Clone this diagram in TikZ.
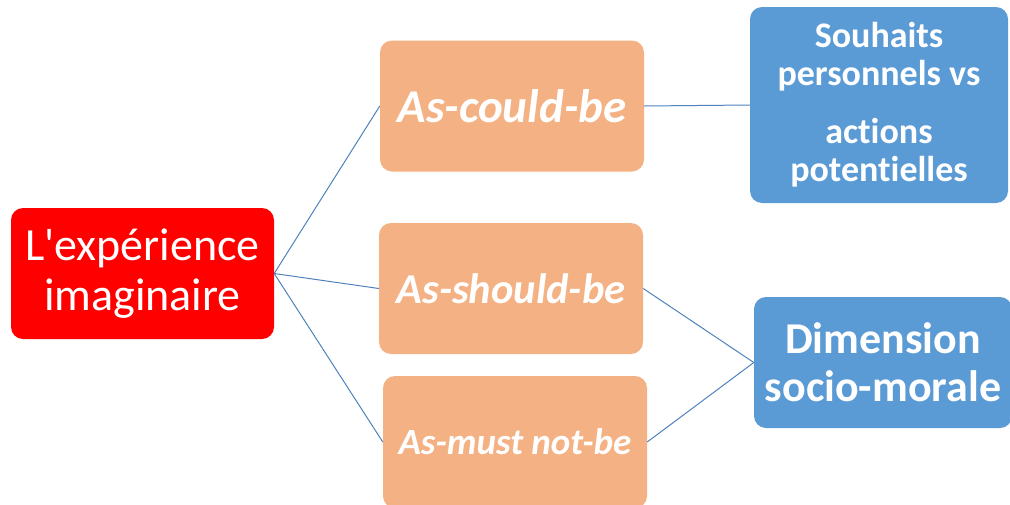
\documentclass[tikz,border=0pt]{standalone}
\usepackage{fontspec}
\setmainfont[Ligatures=NoCommon]{Carlito}
\usepackage{tikz}
\usetikzlibrary{calc}
\usetikzlibrary{positioning}

\definecolor{exp red}{HTML}{FF0000}
\definecolor{as orange}{HTML}{F4B183}
\definecolor{dim blue}{HTML}{5B9BD5}
\definecolor{link blue}{HTML}{4F81BD}

\begin{document}
\begin{tikzpicture}[x=1pt,y=-1pt,
  box/.style={rounded corners=12pt,text=white,align=center,inner sep=0pt},
  expbox/.style={box,fill=exp red,minimum width=263pt,minimum height=131pt,
    font=\fontsize{46}{50}\selectfont},
  asbox/.style={box,fill=as orange,minimum width=264pt,minimum height=131pt,
    font=\bfseries\itshape},
  dimbox/.style={box,fill=dim blue,minimum width=258pt,font=\bfseries},
  link/.style={draw=link blue,line width=1pt}]
 \path[use as bounding box] (0,0) rectangle (1010,504);
 \clip (0,0) rectangle (1010,504);
 \node[expbox] (exp) at (142.5,273.5) {L\textquotesingle expérience\\imaginaire};
 \node[asbox,font=\bfseries\itshape\fontsize{47}{50}\selectfont] (could) at (512,106) {As-could-be};
 \node[asbox,font=\bfseries\itshape\fontsize{42.5}{50}\selectfont] (should) at (511,288.5) {As-should-be};
 \node[asbox,minimum height=132pt,font=\bfseries\itshape\fontsize{37}{40}\selectfont] (mustnot) at (515,442) {As-must not-be};
 \node[dimbox,minimum height=196pt,font=\bfseries\fontsize{36}{38}\selectfont] (wish) at (879,105)
   {Souhaits\\personnels vs\\[20pt] actions\\potentielles};
 \node[dimbox,minimum height=131pt,font=\bfseries\fontsize{44}{48}\selectfont] (dim) at (883,362.5)
   {Dimension\\socio-morale};
 % links
 \foreach \n in {could,should,mustnot} {
   \draw[link] (exp.east) -- (\n.west);
 }
 \draw[link] (could.east) -- (wish.west);
 \draw[link] (should.east) -- (dim.west);
 \draw[link] (mustnot.east) -- (dim.west);
\end{tikzpicture}
\end{document}
